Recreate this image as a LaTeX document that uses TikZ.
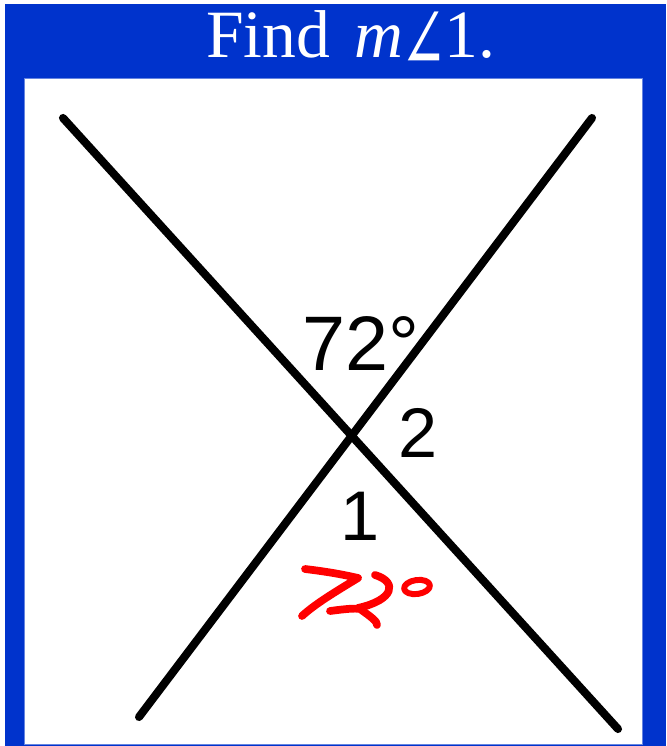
\documentclass[tikz,border=0pt]{standalone}
\usepackage{graphicx}
\usepackage{fontspec}
\setmainfont{Liberation Serif}
\newfontfamily\labelfont{Liberation Sans}
\newfontfamily\anglefont[Scale=1.15]{DejaVu Serif}
\definecolor{slideblue}{RGB}{0,51,204}
\definecolor{inkred}{RGB}{255,0,0}
\newcommand{\anglesign}{\raisebox{-6.5pt}{\scalebox{0.72}[1.12]{\anglefont ∠}}}
\begin{document}
\begin{tikzpicture}[x=0.02cm, y=-0.02cm,
  titletext/.style={text=white, inner sep=0pt, font=\fontsize{38.5}{40}\selectfont},
  anglelabel/.style={inner sep=0pt, anchor=base, font=\labelfont\fontsize{44}{46}\selectfont},
  numlabel/.style={inner sep=0pt, anchor=base, font=\labelfont\fontsize{40}{42}\selectfont},
  transversal/.style={line width=4.6pt, line cap=round},
  handwriting/.style={inkred, line width=4.4pt, line cap=round, line join=round}]
  \useasboundingbox (0,0) rectangle (666,746);
  % slide background
  \fill[slideblue] (5,4) rectangle (666,746);
  \fill[white] (24,78) rectangle (642,744);
  \draw[slideblue!60, line width=0.5pt] (24,78) rectangle (642,744);

  % title
  \node[titletext, anchor=base west] (title) at (206,58)
    {Find\hspace{0.35em}\textit{m}\hspace{-0.04em}\anglesign\hspace{-0.04em}1.};

  % the two lines
  \coordinate (a1) at (63,118);
  \coordinate (a2) at (618,729);
  \coordinate (b1) at (592,118);
  \coordinate (b2) at (139,717);
  \draw[transversal] (a1) -- (a2);
  \draw[transversal] (b1) -- (b2);

  % angle labels
  \node[anglelabel] (given) at (361,370) {72°};
  \node[numlabel] (two) at (418,457) {2};
  \node[numlabel] (one) at (360,540) {1};

  % red answer written by hand
  \draw[handwriting] (305,569) .. controls (330,572) and (345,575) .. (358,578)
    .. controls (335,592) and (315,604) .. (302,616);
  \draw[handwriting] (375,575) .. controls (398,582) and (394,600) .. (358,608);
  \draw[handwriting] (330,611) .. controls (345,609) and (355,608) .. (360,609)
    .. controls (370,616) and (378,622) .. (377,625);
  \draw[handwriting, line width=3.4pt, rotate around={8:(417,587)}] (417,587) ellipse (13 and 7);
\end{tikzpicture}
\end{document}
